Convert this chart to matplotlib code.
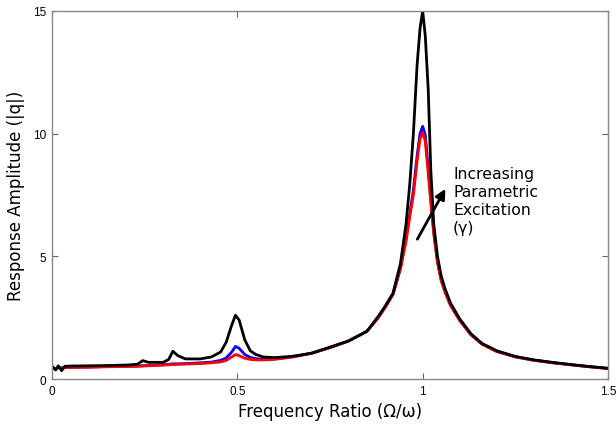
import matplotlib.pyplot as plt

# frequency ratio grid
ratio = [0.003, 0.01, 0.017, 0.026, 0.035, 0.05, 0.1, 0.15, 0.2, 0.23, 0.245, 0.26,
         0.3, 0.315, 0.326, 0.34, 0.36, 0.4, 0.43, 0.455, 0.47, 0.485, 0.495, 0.505,
         0.52, 0.535, 0.55, 0.57, 0.6, 0.65, 0.7, 0.75, 0.8, 0.85, 0.88, 0.9, 0.92,
         0.94, 0.955, 0.965, 0.975, 0.985, 0.993, 1.0, 1.007, 1.015, 1.022, 1.03,
         1.04, 1.05, 1.06, 1.075, 1.1, 1.13, 1.16, 1.2, 1.25, 1.3, 1.35, 1.4, 1.45, 1.5]

amp_low = [0.45, 0.40, 0.47, 0.44, 0.47, 0.47, 0.48, 0.50, 0.51, 0.52, 0.53, 0.54,
           0.57, 0.58, 0.59, 0.60, 0.61, 0.63, 0.66, 0.70, 0.76, 0.90, 1.00, 0.95,
           0.85, 0.80, 0.78, 0.78, 0.80, 0.90, 1.05, 1.28, 1.55, 1.95, 2.5, 2.95, 3.45,
           4.5, 5.6, 6.6, 7.5, 8.9, 9.8, 10.05, 9.7, 8.4, 7.2, 5.9,
           4.75, 4.0, 3.55, 3.0, 2.38, 1.8, 1.42, 1.12, 0.9, 0.76, 0.66, 0.58, 0.50, 0.43]

amp_mid = [0.46, 0.40, 0.48, 0.45, 0.48, 0.48, 0.49, 0.51, 0.52, 0.53, 0.54, 0.55,
           0.58, 0.60, 0.62, 0.62, 0.63, 0.66, 0.69, 0.76, 0.86, 1.10, 1.33, 1.25,
           1.00, 0.88, 0.83, 0.80, 0.82, 0.91, 1.05, 1.28, 1.55, 1.95, 2.5, 2.95, 3.45,
           4.5, 5.7, 6.7, 7.7, 9.1, 10.0, 10.3, 9.95, 8.6, 7.3, 6.0,
           4.8, 4.05, 3.6, 3.02, 2.4, 1.82, 1.43, 1.13, 0.91, 0.77, 0.67, 0.58, 0.50, 0.43]

amp_high = [0.48, 0.37, 0.54, 0.34, 0.52, 0.53, 0.54, 0.55, 0.57, 0.60, 0.75, 0.68,
            0.68, 0.80, 1.13, 0.95, 0.82, 0.82, 0.90, 1.10, 1.50, 2.20, 2.60, 2.40,
            1.60, 1.15, 1.00, 0.90, 0.87, 0.93, 1.05, 1.30, 1.55, 1.95, 2.55, 3.0, 3.5,
            4.7, 6.3, 7.9, 10.0, 12.8, 14.3, 15.0, 14.0, 11.8, 8.5, 6.3,
            5.0, 4.2, 3.7, 3.1, 2.45, 1.85, 1.45, 1.15, 0.92, 0.78, 0.68, 0.59, 0.51, 0.44]

xticks = [0, 0.5, 1, 1.5]
xticklabels = ['0', '0.5', '1', '1.5']
yticks = [0, 5, 10, 15]
yticklabels = ['0', '5', '10', '15']

fig = plt.figure(figsize=(6.16, 4.27), dpi=100)
ax = fig.add_axes([0.0844, 0.110, 0.9026, 0.862])

ax.plot(ratio, amp_low, color='#ff0000', lw=2.0)
ax.plot(ratio, amp_mid, color='#0000ff', lw=2.0, zorder=1.9)
ax.plot(ratio, amp_high, color='black', lw=2.0)

ax.set_xlim(0, 1.5)
ax.set_ylim(0, 15)
ax.set_xticks(xticks)
ax.set_xticklabels(xticklabels, family='Liberation Sans', fontsize=8.5)
ax.set_yticks(yticks)
ax.set_yticklabels(yticklabels, family='Liberation Sans', fontsize=8.5)
ax.tick_params(direction='in', top=True, right=True, length=4, width=0.8,
               color='#666666', pad=4)
for s in ax.spines.values():
    s.set_color('#888888')
    s.set_linewidth(1.0)

ax.set_xlabel('Frequency Ratio (Ω/ω)', fontsize=12, labelpad=4)
ax.set_ylabel('Response Amplitude (|q|)', fontsize=12, labelpad=6)

ax.annotate('', xy=(1.065, 7.85), xytext=(0.982, 5.6),
            arrowprops=dict(arrowstyle='-|>,head_length=0.6,head_width=0.3',
                            color='black', lw=2))
ax.text(1.082, 8.7, 'Increasing\nParametric\nExcitation\n(γ)', fontsize=11.3,
        va='top', ha='left', linespacing=1.25)

fig.savefig('out.png', dpi=100)
